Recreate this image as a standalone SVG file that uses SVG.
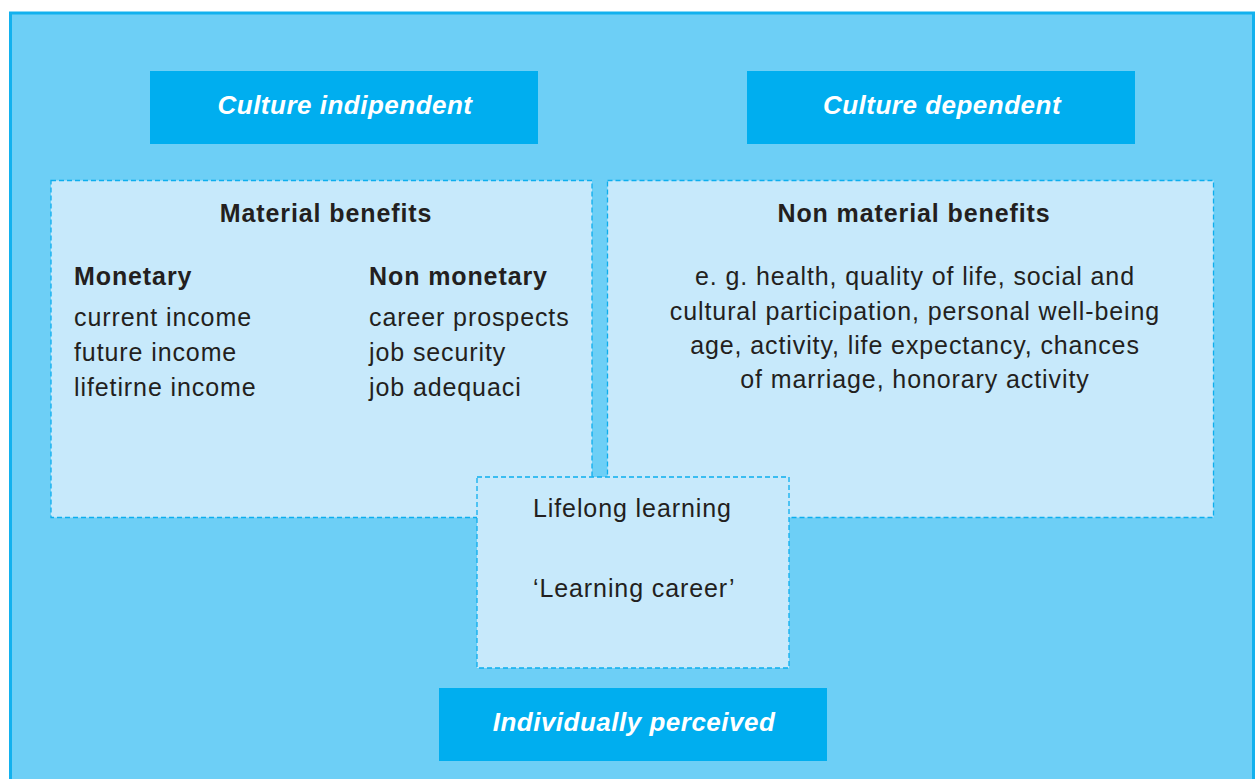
<svg xmlns="http://www.w3.org/2000/svg" width="1259" height="779" viewBox="0 0 1259 779">
<style>
.hdr{fill:#00AEEF;}
.hdrt{fill:#FFFFFF;font-family:"Liberation Sans",Arial,sans-serif;font-size:26px;font-weight:bold;font-style:italic;text-anchor:middle;letter-spacing:0.5px;}
.box{fill:#C7E9FB;stroke:#0DAEEE;stroke-width:1.3;stroke-dasharray:5 3;}
.t{fill:#231F20;font-family:"Liberation Sans",Arial,sans-serif;font-size:25px;letter-spacing:0.9px;}
.b{font-weight:bold;letter-spacing:0.9px;}
.c{text-anchor:middle;}
</style>
<rect x="0" y="0" width="1259" height="779" fill="#FFFFFF"/>
<rect id="frame" x="10.5" y="13" width="1243" height="800" fill="#6DCFF6" stroke="#12B1EE" stroke-width="3"/>
<g id="connectors"></g>
<g id="culture-independent">
<rect class="hdr" x="150" y="71" width="388" height="73"/>
<text class="hdrt" x="345" y="114">Culture indipendent</text>
</g>
<g id="culture-dependent">
<rect class="hdr" x="747" y="71" width="388" height="73"/>
<text class="hdrt" x="942" y="114">Culture dependent</text>
</g>
<g id="material-benefits">
<rect class="box" x="51" y="180.5" width="541" height="337"/>
<text class="t b c" x="326" y="222">Material benefits</text>
<text class="t b" x="74" y="285">Monetary</text>
<text class="t" x="74" y="326">current income</text>
<text class="t" x="74" y="361">future income</text>
<text class="t" x="74" y="396">lifetirne income</text>
<text class="t b" x="369" y="285">Non monetary</text>
<text class="t" x="369" y="326">career prospects</text>
<text class="t" x="369" y="361">job security</text>
<text class="t" x="369" y="396">job adequaci</text>
</g>
<g id="non-material-benefits">
<rect class="box" x="607.5" y="180.5" width="606" height="337"/>
<text class="t b c" x="914" y="222">Non material benefits</text>
<text class="t c" x="915" y="285">e. g. health, quality of life, social and</text>
<text class="t c" x="915" y="320">cultural participation, personal well-being</text>
<text class="t c" x="915" y="354">age, activity, life expectancy, chances</text>
<text class="t c" x="915" y="388">of marriage, honorary activity</text>
</g>
<g id="lifelong-learning">
<rect class="box" x="477" y="477" width="312" height="191"/>
<text class="t" x="533" y="517">Lifelong learning</text>
<text class="t" x="533" y="597">‘Learning career’</text>
</g>
<g id="individually-perceived">
<rect class="hdr" x="439" y="688" width="388" height="73"/>
<text class="hdrt" x="634" y="731">Individually perceived</text>
</g>
</svg>
